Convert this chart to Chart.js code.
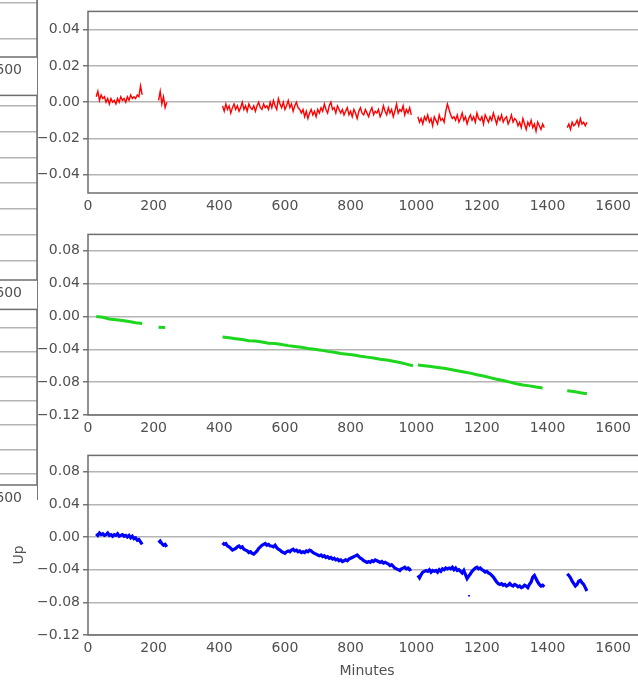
<!DOCTYPE html>
<html>
<head>
<meta charset="utf-8">
<script src="https://cdn.jsdelivr.net/npm/chart.js@4.4.1/dist/chart.umd.min.js"></script>
<style>
  html, body { margin: 0; padding: 0; background: #fff; }
  body { width: 638px; height: 683px; overflow: hidden; position: relative; }
  canvas { position: absolute; }
  #edge { position: absolute; left: 37px; top: 0; height: 500px; border-left: 1.5px solid #7a7a7a; }
</style>
</head>
<body>
<!-- neighbouring station column, only its right edge shows -->
<canvas id="leftA" width="660" height="213" style="left:-609px; top:-136px"></canvas>
<canvas id="leftB" width="660" height="216" style="left:-609px; top:84px"></canvas>
<canvas id="leftC" width="660" height="207" style="left:-609px; top:298px"></canvas>
<div id="edge"></div>
<!-- north / east / up components -->
<canvas id="north" width="660" height="213" style="left:0; top:0"></canvas>
<canvas id="east" width="660" height="212" style="left:0; top:223px"></canvas>
<canvas id="up" width="660" height="239" style="left:0; top:444px"></canvas>
<script>
const MINUTE_TICKS = [0, 200, 400, 600, 800, 1000, 1200, 1400, 1600];
// first sample (minutes) of each tracked span; gaps are outages
const SEGMENT_STARTS = [25, 215, 410, 1005, 1460];
const NORTH_STEP = 5;
const EAST_STEP = 20;
const UP_STEP = 5;

// displacements in mm, one array per span
const northMm = [
  [3, 6, 1, 4, 2, 3, 0, 2, -1, 2, 0, 1, -1, 2, 0, 3, 1, 2, 0, 3, 1, 4, 2, 3, 2, 4, 3, 9, 4],
  [1, 6, -1, 3, -3, 0],
  [-2, -5, -1, -4, -2, -6, -3, -1, -4, -2, -5, -3, 0, -4, -2, -5, -1, -3, -4, -2,
   -5, -2, 0, -3, -4, -1, -3, -2,
   -4, 0, -3, 1, -2, -4, 2, -1, -3, 0, -4, -2, 1, -3, -1, -5, -2, 0, -3, -4,
   -6, -4, -8, -5, -9, -6, -4, -7, -5, -8, -4, -6,
   -3, -5, -1, -4, -6, -2, 0, -4, -3, -6, -2, -4,
   -6, -4, -7, -5, -3, -7, -5, -8, -4, -6, -9, -5, -3, -6, -7, -4, -6, -8, -5, -3,
   -7, -5, -6, -4, -8, -6, -2, -5, -7, -3, -6, -4, -8, -5, -1, -6, -4,
   -5, -2, -7, -4, -6, -3, -7],
  [-8, -11, -9, -12, -8, -10, -7, -11, -9, -13, -8, -10, -12, -7, -10, -9, -11,
   -5, -1, -4, -7, -9,
   -8, -10, -7, -11, -9, -6, -10, -8, -12, -9, -7, -10, -8, -11, -6, -9, -10, -8, -12, -7,
   -9, -11, -8, -10, -6, -9, -12, -8, -10, -7, -11, -9, -8, -12, -10, -7, -11, -9,
   -10, -13, -11, -14, -9, -12, -15, -11, -13, -10, -14, -12, -16, -11, -13, -15, -12, -14],
  [-14, -12, -15, -11, -13, -12, -10, -13, -9, -12, -11, -13, -11]
];
const eastMm = [
  [0, -1, -3, -4, -5, -6, -7.5, -8.5],
  [-13, -13.5],
  [-25, -26, -27, -28, -29.5, -30, -31, -32.5, -33, -34, -35.5, -36.5, -37.5, -39, -40,
   -41, -42.5, -43.5, -45, -46, -47, -48.5, -49.5, -50.5, -52, -53, -54.5, -56, -58, -60],
  [-59, -60, -61, -62, -63, -64.5, -66, -67.5, -69, -71, -72.5, -74.5, -76.5, -78, -80,
   -82, -83.5, -84.5, -86, -87],
  [-90.5, -91.5, -93, -94]
];
const upMm = [
  [4, 2, 5, 3, 4, 2, 3, 5, 2, 3, 1, 3, 2, 4, 1, 2, 3, 1, 2, 0, 2, -1, 1, -2, -1, -4, -3, -6, -9],
  [-7, -5, -8, -10, -9, -12],
  [-7, -9, -8, -11, -12, -14, -16, -15, -14, -12,
   -11, -13, -12, -15, -16, -17, -19, -18, -20, -21,
   -19, -17, -14, -12, -10, -9, -8, -10, -9, -11,
   -11, -12, -10, -13, -15, -16, -18, -19, -20, -18,
   -17, -18, -16, -15, -17, -16, -18, -17, -19, -18,
   -19, -17, -18, -16, -17, -19, -20, -21, -22, -23,
   -22, -24, -23, -25, -24, -26, -25, -27, -26, -28,
   -27, -29, -28, -30, -29, -28, -29, -27, -26, -25,
   -24, -23, -22, -24, -26, -27, -29, -30, -31, -30,
   -31, -29, -30, -28, -29, -30, -31, -30, -32, -31,
   -32, -33, -35, -34, -36, -38, -39, -40, -41, -39,
   -38, -37, -39, -38, -40, -39],
  [-47, -50, -46, -43, -42, -41, -42, -40, -43, -41,
   -42, -41, -43, -40, -42, -39, -40, -38, -39, -38,
   -39, -37, -40, -38, -41, -40, -42, -44, -41, -46,
   -51, -48, -45, -42, -40, -38, -37, -39, -38, -40,
   -41, -43, -42, -44, -45, -47, -49, -52, -55, -57,
   -58, -57, -59, -58, -60, -59, -57, -59, -60, -58,
   -59, -61, -60, -62, -61, -59, -60, -62, -58, -55,
   -49, -47, -51, -55, -58, -60, -59, -61],
  [-45, -47, -50, -54, -57, -60, -58, -54, -53, -56, -58, -62, -66]
];
// lone epoch off the up track: [minute, mm]
const upStrayMm = [[1161, -72]];

const NORTH_TICKS = [-0.04, -0.02, 0, 0.02, 0.04];
const EAST_TICKS = [-0.12, -0.08, -0.04, 0, 0.04, 0.08];
const UP_TICKS = [-0.12, -0.08, -0.04, 0, 0.04, 0.08];
const SIDE_TICKS = [-0.06, -0.04, -0.02, 0, 0.02, 0.04, 0.06];

const FONT = { family: "'DejaVu Sans', sans-serif", size: 14 };
const TEXT = '#505050';

function toPoints(segments, step) {
  const pts = [];
  segments.forEach((vals, s) => {
    if (s > 0) pts.push({ x: SEGMENT_STARTS[s] - 1, y: null });
    vals.forEach((mm, i) => pts.push({ x: SEGMENT_STARTS[s] + i * step, y: mm / 1000 }));
  });
  return pts;
}

function fmt(v) {
  return (v < 0 ? '\u2212' : '') + Math.abs(v).toFixed(2);
}

const frame = {
  id: 'frame',
  afterDatasetsDraw(chart) {
    const { ctx, chartArea: a } = chart;
    ctx.save();
    ctx.strokeStyle = '#6e6e6e';
    ctx.lineWidth = 1.5;
    ctx.strokeRect(a.left, a.top, a.right - a.left, a.bottom - a.top);
    ctx.restore();
  }
};

const sideCaption = {
  id: 'sideCaption',
  afterDraw(chart, args, o) {
    if (!o.text) return;
    const ctx = chart.ctx;
    ctx.save();
    ctx.translate(o.x, o.y);
    ctx.rotate(-Math.PI / 2);
    ctx.font = `${FONT.size}px ${FONT.family}`;
    ctx.fillStyle = TEXT;
    ctx.textAlign = 'center';
    ctx.textBaseline = 'middle';
    ctx.fillText(o.text, 0, 0);
    ctx.restore();
  }
};

function panel(id, cfg) {
  return new Chart(document.getElementById(id), {
    type: 'line',
    data: { datasets: cfg.datasets || [] },
    options: {
      responsive: false,
      animation: false,
      events: [],
      layout: { padding: { top: cfg.padTop, right: 14, left: 0, bottom: 0 } },
      plugins: {
        legend: { display: false },
        tooltip: { enabled: false },
        sideCaption: cfg.caption || {}
      },
      scales: {
        x: {
          type: 'linear',
          min: 0,
          max: 1700,
          afterBuildTicks: (s) => { s.ticks = MINUTE_TICKS.map((v) => ({ value: v })); },
          afterFit: (s) => { s.height = cfg.xHeight; },
          grid: { display: false, drawTicks: false },
          border: { display: false },
          ticks: {
            padding: 5, color: TEXT, font: FONT, maxRotation: 0, autoSkip: false,
            callback: (v) => String(v)
          },
          title: cfg.xTitle
            ? { display: true, text: cfg.xTitle, color: TEXT, font: FONT, padding: { top: 0, bottom: 3 } }
            : { display: false }
        },
        y: {
          min: cfg.min,
          max: cfg.max,
          afterBuildTicks: (s) => { s.ticks = cfg.ticks.map((v) => ({ value: v })); },
          afterFit: (s) => { s.width = 88; },
          grid: { color: '#b4b4b4', lineWidth: 1.5, tickLength: 5, tickColor: '#777' },
          border: { display: false },
          ticks: { padding: 3, color: TEXT, font: FONT, callback: fmt }
        }
      }
    },
    plugins: [frame, sideCaption]
  });
}

panel('leftA', { padTop: 6, xHeight: 20, min: -0.05, max: 0.05, ticks: NORTH_TICKS });
panel('leftB', { padTop: 5, xHeight: 20, min: -0.075, max: 0.068, ticks: SIDE_TICKS });
panel('leftC', { padTop: 5, xHeight: 20, min: -0.069, max: 0.075, ticks: SIDE_TICKS });

panel('north', {
  padTop: 6, xHeight: 20, min: -0.05, max: 0.05, ticks: NORTH_TICKS,
  datasets: [{
    data: toPoints(northMm, NORTH_STEP),
    borderColor: '#ff0000', borderWidth: 1.4, pointRadius: 0, tension: 0
  }]
});

panel('east', {
  padTop: 5, xHeight: 20, min: -0.12, max: 0.10, ticks: EAST_TICKS,
  datasets: [{
    data: toPoints(eastMm, EAST_STEP),
    borderColor: '#1fd61f', borderWidth: 3, pointRadius: 0, tension: 0
  }]
});

panel('up', {
  padTop: 5, xHeight: 48, min: -0.12, max: 0.10, ticks: UP_TICKS,
  xTitle: 'Minutes',
  caption: { text: 'Up', x: 19, y: 111 },
  datasets: [{
    data: toPoints(upMm, UP_STEP),
    borderColor: '#0000ff', borderWidth: 3.2, pointRadius: 0, tension: 0
  }, {
    data: upStrayMm.map(([t, mm]) => ({ x: t, y: mm / 1000 })),
    showLine: false, pointRadius: 1, pointBackgroundColor: '#0000ff', borderColor: '#0000ff', borderWidth: 0
  }]
});
</script>
</body>
</html>
